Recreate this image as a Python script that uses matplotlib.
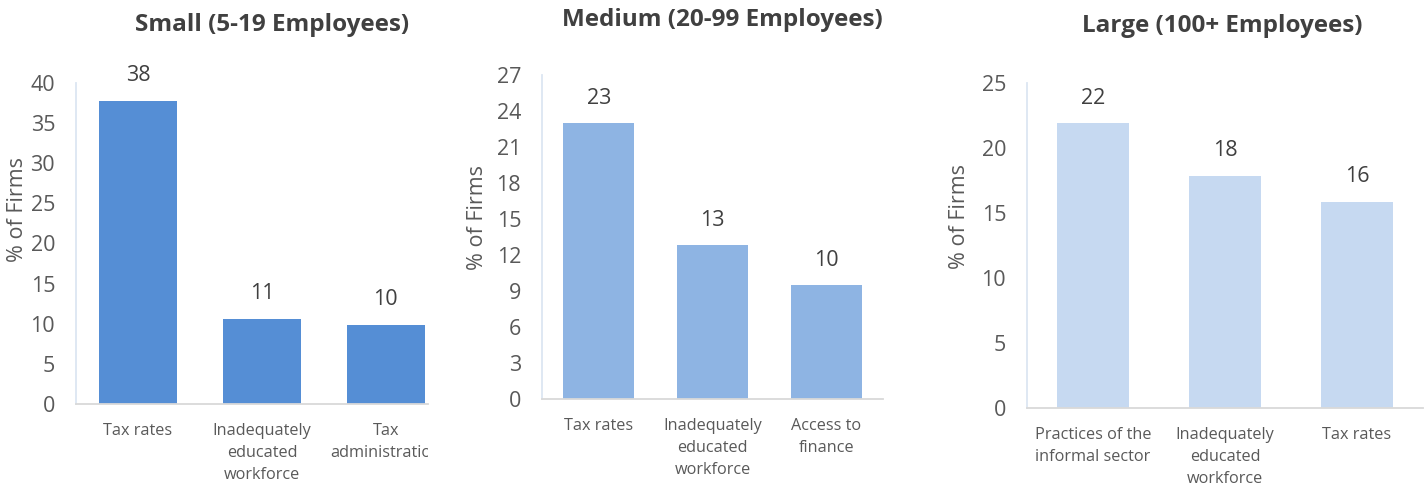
import matplotlib
matplotlib.use("Agg")
import matplotlib.pyplot as plt
from matplotlib.transforms import Bbox, TransformedBbox

plt.rcParams['font.family'] = ['Open Sans', 'DejaVu Sans']

titles = ["Small (5-19 Employees)", "Medium (20-99 Employees)", "Large (100+ Employees)"]
small_cats = ["Tax rates", "Inadequately\neducated\nworkforce", "Tax\nadministration"]
small_vals = [37.8, 10.6, 9.9]
small_labels = ["38", "11", "10"]
medium_cats = ["Tax rates", "Inadequately\neducated\nworkforce", "Access to\nfinance"]
medium_vals = [23.0, 12.8, 9.5]
medium_labels = ["23", "13", "10"]
large_cats = ["Practices of the\ninformal sector", "Inadequately\neducated\nworkforce", "Tax rates"]
large_vals = [21.9, 17.85, 15.85]
large_labels = ["22", "18", "16"]
yticks_small = [0, 5, 10, 15, 20, 25, 30, 35, 40]
yticks_medium = [0, 3, 6, 9, 12, 15, 18, 21, 24, 27]
yticks_large = [0, 5, 10, 15, 20, 25]

W, H = 1425, 487
fig = plt.figure(figsize=(W / 100, H / 100), dpi=100)

panels = [
    dict(cats=small_cats, vals=small_vals, labels=small_labels, yticks=yticks_small,
         color="#558ED5", rect=(76, 428, 404, 83), xlim=(-0.5, 2.34), width=0.63,
         title_xy=(272, 25), ylab=(-0.136, 0.607)),
    dict(cats=medium_cats, vals=medium_vals, labels=medium_labels, yticks=yticks_medium,
         color="#8EB4E3", rect=(542, 883, 399, 75), xlim=(-0.5, 2.5), width=0.625,
         title_xy=(722, 20), ylab=(-0.157, 0.56)),
    dict(cats=large_cats, vals=large_vals, labels=large_labels, yticks=yticks_large,
         color="#C6D9F1", rect=(1027, 1423, 408, 83), xlim=(-0.5, 2.5), width=0.545,
         title_xy=(1222, 26), ylab=(-0.143, 0.59)),
]

for i, p in enumerate(panels):
    l, r, b, t = p["rect"]
    ax = fig.add_axes([l / W, 1 - b / H, (r - l) / W, (b - t) / H])
    x = list(range(len(p["cats"])))
    ax.bar(x, p["vals"], width=p["width"], color=p["color"], zorder=2)
    ax.set_xlim(*p["xlim"])
    ax.set_ylim(p["yticks"][0], p["yticks"][-1])
    ax.set_yticks(p["yticks"])
    ax.set_xticks(x)
    ax.set_xticklabels(p["cats"], fontsize=11.7, color="#595959", linespacing=1.5)
    ax.tick_params(axis='y', length=0, pad=15, labelsize=15.5, labelcolor="#595959")
    ax.tick_params(axis='x', length=0, pad=14)
    for s in ["top", "right"]:
        ax.spines[s].set_visible(False)
    ax.spines["left"].set_color("#DCE6F2")
    ax.spines["left"].set_linewidth(1.3)
    ax.spines["bottom"].set_color("#D9D9D9")
    ax.spines["bottom"].set_linewidth(1.3)
    ax.set_ylabel("% of Firms", fontsize=15.5, color="#595959")
    ax.yaxis.set_label_coords(*p["ylab"])
    for xi, v, lab in zip(x, p["vals"], p["labels"]):
        ax.annotate(lab, (xi, v), xytext=(0, 18), textcoords="offset points",
                    ha="center", va="center", fontsize=15.5, color="#404040",
                    annotation_clip=False)
    fig.text(p["title_xy"][0] / W, 1 - p["title_xy"][1] / H, titles[i],
             ha="center", va="center", fontsize=17.5, fontweight="bold", color="#404040")
    if i == 0:
        clip = TransformedBbox(Bbox([[0, 0], [r / W, 1]]), fig.transFigure)
        for lbl in ax.get_xticklabels():
            lbl.set_clip_on(True)
            lbl.set_clip_box(clip)

fig.savefig("out.png", dpi=100)
